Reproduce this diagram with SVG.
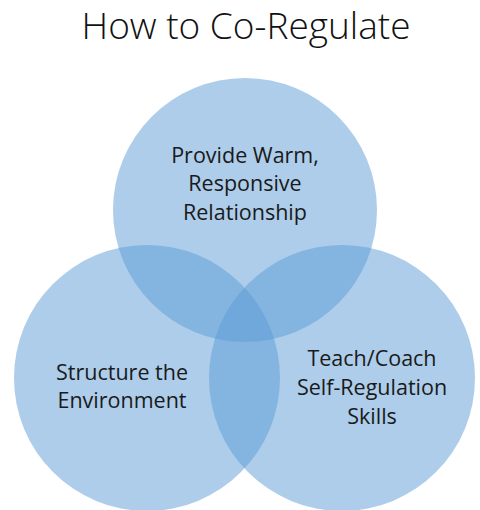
<svg xmlns="http://www.w3.org/2000/svg" width="480" height="510" viewBox="0 0 480 510">
<style>
.c{fill:#5b9bd5;fill-opacity:0.5}
.t{font-family:"Open Sans","Liberation Sans",sans-serif;font-size:21.5px;fill:#1a1a1a;text-anchor:middle}
.title{font-family:"Open Sans","Liberation Sans",sans-serif;font-weight:300;font-size:37px;fill:#111;text-anchor:middle}
</style>
<rect width="480" height="510" fill="#fff"/>
<text class="title" x="246" y="39">How to Co-Regulate</text>
<g id="top"><circle class="c" cx="245" cy="210" r="132"/></g>
<g id="left"><circle class="c" cx="147" cy="378" r="133"/></g>
<g id="right"><circle class="c" cx="342" cy="378" r="133"/></g>
<g id="labels">
<text class="t" x="245" y="163">Provide Warm,</text>
<text class="t" x="245" y="191">Responsive</text>
<text class="t" x="245" y="220">Relationship</text>
<text class="t" x="122" y="380">Structure the</text>
<text class="t" x="122" y="408">Environment</text>
<text class="t" x="372" y="366">Teach/Coach</text>
<text class="t" x="372" y="395">Self-Regulation</text>
<text class="t" x="372" y="424">Skills</text>
</g>
<g id="connectors"></g>
</svg>
